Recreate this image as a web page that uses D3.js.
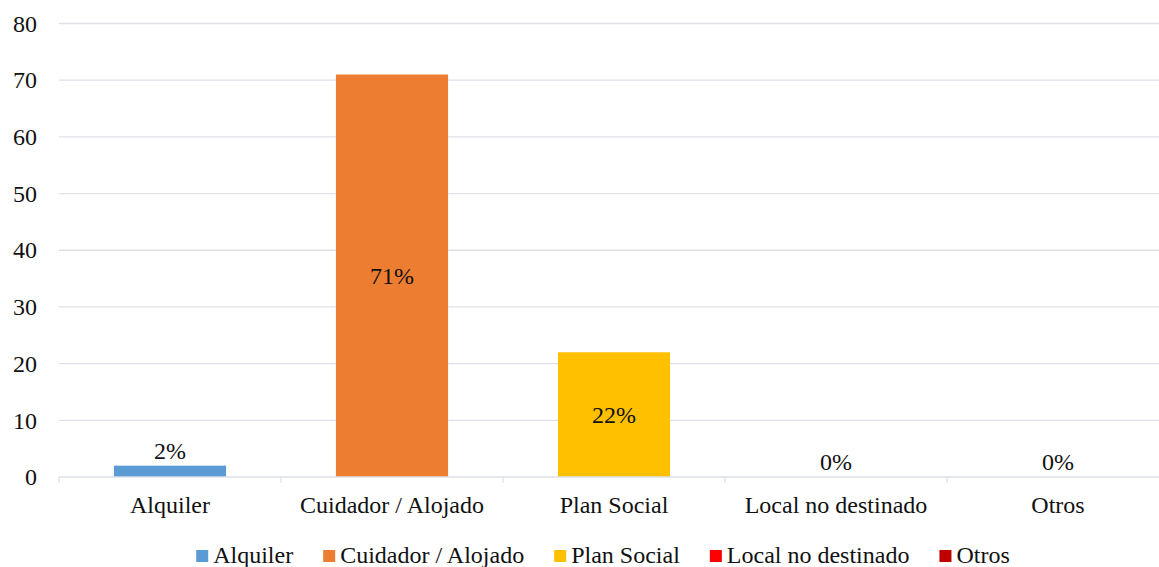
<!DOCTYPE html>
<html>
<head>
<meta charset="utf-8">
<script src="https://cdn.jsdelivr.net/npm/d3@7"></script>
<style>
  html, body { margin: 0; padding: 0; background: #fff; overflow: hidden; }
  svg text { font-family: "Liberation Serif", "Times New Roman", Times, serif; }
</style>
</head>
<body>
<svg id="chart" width="1159" height="567"></svg>
<script>
// Housing situation categories and their counts (percent of total)
const categories = ["Alquiler", "Cuidador / Alojado", "Plan Social", "Local no destinado", "Otros"];
const values = [2, 71, 22, 0, 0];
const labels = ["2%", "71%", "22%", "0%", "0%"];
const colors = ["#5B9BD5", "#ED7D31", "#FFC000", "#FF0000", "#C00000"];
const yTicks = [0, 10, 20, 30, 40, 50, 60, 70, 80];

const serif = '"Liberation Serif", "Times New Roman", Times, serif';
const fontSize = "24px";
const svg = d3.select("#chart");
const W = 1159, H = 567;
const margin = { left: 59, right: -10, top: 23.5, bottom: 90 };

const x = d3.scaleBand()
  .domain(categories)
  .range([margin.left, W - margin.right])
  .paddingInner(0.495)
  .paddingOuter(0.2475);

const y = d3.scaleLinear()
  .domain([0, 80])
  .range([H - margin.bottom, margin.top]);

const gridColor = "#DDE1E6";

// Horizontal gridlines
svg.append("g")
  .selectAll("line")
  .data(yTicks.filter(d => d > 0))
  .join("line")
  .attr("x1", margin.left)
  .attr("x2", W)
  .attr("y1", d => y(d))
  .attr("y2", d => y(d))
  .attr("stroke", gridColor)
  .attr("stroke-width", 1.3);

// Y axis labels
const yAxis = d3.axisLeft(y).tickValues(yTicks).tickSize(0).tickPadding(22);
const gy = svg.append("g")
  .attr("transform", `translate(${margin.left},0)`)
  .call(yAxis)
  .attr("font-family", null)
  .attr("font-size", null);
gy.select(".domain").remove();
gy.selectAll("text")
  .style("font-family", serif)
  .style("font-size", fontSize)
  .attr("fill", "#111");

// Bars
svg.append("g")
  .selectAll("rect")
  .data(categories)
  .join("rect")
  .attr("x", d => x(d))
  .attr("width", x.bandwidth())
  .attr("y", (d, i) => y(values[i]))
  .attr("height", (d, i) => y(0) - y(values[i]))
  .attr("fill", (d, i) => colors[i]);

// X axis with boundary ticks between categories
const step = x.step();
const boundaries = d3.range(categories.length + 1).map(i => margin.left + i * step);
const gx = svg.append("g");
gx.append("line")
  .attr("x1", margin.left)
  .attr("x2", W)
  .attr("y1", y(0))
  .attr("y2", y(0))
  .attr("stroke", gridColor)
  .attr("stroke-width", 1.3);
gx.selectAll("line.tick")
  .data(boundaries)
  .join("line")
  .attr("class", "tick")
  .attr("x1", d => d)
  .attr("x2", d => d)
  .attr("y1", y(0))
  .attr("y2", y(0) + 6)
  .attr("stroke", gridColor)
  .attr("stroke-width", 1.3);

const xAxis = d3.axisBottom(x).tickSize(0).tickPadding(0);
const gxl = svg.append("g")
  .attr("transform", `translate(0,${y(0)})`)
  .call(xAxis)
  .attr("font-family", null)
  .attr("font-size", null);
gxl.select(".domain").remove();
gxl.selectAll("text")
  .style("font-family", serif)
  .style("font-size", fontSize)
  .attr("fill", "#111")
  .attr("dy", null)
  .attr("y", 36);

// Value labels: inside centre for tall bars, just above for short ones
svg.append("g")
  .selectAll("text")
  .data(categories)
  .join("text")
  .attr("x", d => x(d) + x.bandwidth() / 2)
  .attr("y", (d, i) => {
    const h = y(0) - y(values[i]);
    return h > 40 ? (y(values[i]) + y(0)) / 2 + 8 : y(values[i]) - 7;
  })
  .attr("text-anchor", "middle")
  .style("font-family", serif)
  .style("font-size", fontSize)
  .attr("fill", "#111")
  .text((d, i) => labels[i]);

// Legend, centred under the plot
const legend = svg.append("g");
const items = legend.selectAll("g")
  .data(categories)
  .join("g");
items.append("rect")
  .attr("width", 12)
  .attr("height", 12)
  .attr("y", -13)
  .attr("fill", (d, i) => colors[i]);
items.append("text")
  .attr("x", 17)
  .style("font-family", serif)
  .style("font-size", fontSize)
  .attr("fill", "#111")
  .text(d => d);

const gap = 30;
const widths = items.nodes().map(n => 17 + d3.select(n).select("text").node().getComputedTextLength());
const total = d3.sum(widths) + gap * (widths.length - 1);
const start = 603 - total / 2;
items.attr("transform", (d, i) => {
  const tx = start + d3.sum(widths.slice(0, i)) + gap * i;
  return `translate(${tx},563)`;
});
</script>
</body>
</html>
